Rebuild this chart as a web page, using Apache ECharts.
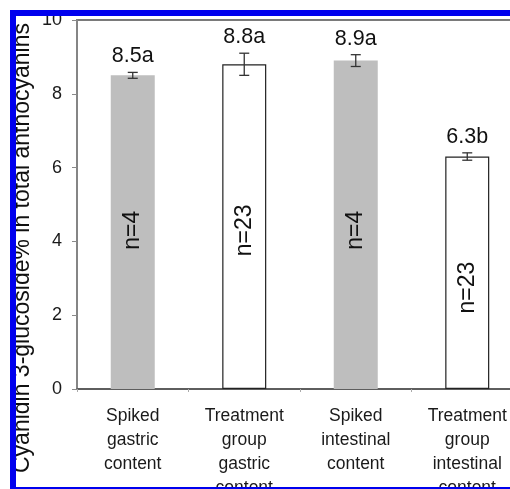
<!DOCTYPE html>
<html>
<head>
<meta charset="utf-8">
<script src="https://cdn.jsdelivr.net/npm/echarts@6/dist/echarts.min.js"></script>
<style>
  html, body { margin: 0; padding: 0; background: #fff; }
  #chart { width: 510px; height: 489px; }
</style>
</head>
<body>
<div id="chart"></div>
<script>
// Cyanidin 3-glucoside share of total anthocyanins, per sample group
const categories = [
  'Spiked\ngastric\ncontent',
  'Treatment\ngroup\ngastric\ncontent',
  'Spiked\nintestinal\ncontent',
  'Treatment\ngroup\nintestinal\ncontent'
];
const values = [8.5, 8.8, 8.9, 6.3];
const errors = [0.08, 0.30, 0.16, 0.10];
const groupLetters = ['a', 'a', 'a', 'b'];
const sampleSizes = [4, 23, 4, 23];
const spiked = [true, false, true, false];
const yTicks = [0, 2, 4, 6, 8, 10];
// where each rotated "n=" note sits inside its bar (axis units)
const nNoteAt = [4.3, 4.3, 4.3, 2.75];

const FONT = 'Liberation Sans, Arial, sans-serif';
const chart = echarts.init(document.getElementById('chart'));

chart.setOption({
  backgroundColor: '#ffffff',
  animation: false,
  grid: {
    left: 77, top: 20, width: 446, height: 369,
    outerBoundsMode: 'none', containLabel: false,
    show: true, borderColor: '#7a7a7a', borderWidth: 2, backgroundColor: 'transparent'
  },
  xAxis: {
    type: 'category',
    data: categories,
    axisLine: { lineStyle: { color: '#555', width: 1.5 } },
    axisTick: { show: true, length: 3, lineStyle: { color: '#aaa' } },
    axisLabel: {
      interval: 0, margin: 15, color: '#1a1a1a',
      fontFamily: FONT, fontSize: 17.5, lineHeight: 24, align: 'center',
      hideOverlap: false
    }
  },
  yAxis: {
    type: 'value',
    min: yTicks[0], max: yTicks[yTicks.length - 1], interval: 2,
    axisLine: { show: true, lineStyle: { color: '#8a8a8a', width: 1.5 } },
    axisTick: { show: true, inside: false, length: 5, lineStyle: { color: '#8a8a8a' } },
    axisLabel: { margin: 15, color: '#1a1a1a', fontFamily: FONT, fontSize: 18 },
    splitLine: { show: false }
  },
  series: [
    {
      type: 'bar',
      barWidth: 44,
      data: values.map((v, i) => ({
        value: v,
        itemStyle: spiked[i]
          ? { color: '#bebebe', borderWidth: 0 }
          : { color: '#ffffff', borderColor: '#222', borderWidth: 1.2 }
      })),
      z: 2
    },
    {
      // error whiskers, significance letters and rotated sample-size notes
      type: 'custom',
      z: 5,
      data: values.map((v, i) => [i, v, errors[i]]),
      renderItem: function (params, api) {
        const i = params.dataIndex;
        const v = api.value(1), e = api.value(2);
        const top = api.coord([i, v + e]);
        const bot = api.coord([i, v - e]);
        const note = api.coord([i, nNoteAt[i]]);
        const w = 5;
        const stroke = { stroke: '#333', lineWidth: 1.3 };
        return {
          type: 'group',
          children: [
            { type: 'line', shape: { x1: top[0], y1: top[1], x2: bot[0], y2: bot[1] }, style: stroke },
            { type: 'line', shape: { x1: top[0] - w, y1: top[1], x2: top[0] + w, y2: top[1] }, style: stroke },
            { type: 'line', shape: { x1: bot[0] - w, y1: bot[1], x2: bot[0] + w, y2: bot[1] }, style: stroke },
            {
              type: 'text', x: top[0], y: top[1] - 16,
              style: {
                text: values[i].toFixed(1) + groupLetters[i],
                fill: '#111', font: '21.5px ' + FONT,
                textAlign: 'center', textVerticalAlign: 'middle'
              }
            },
            {
              type: 'text', x: note[0], y: note[1], rotation: Math.PI / 2,
              style: {
                text: 'n=' + sampleSizes[i],
                fill: '#111', font: '23px ' + FONT,
                textAlign: 'center', textVerticalAlign: 'middle'
              }
            }
          ]
        };
      }
    }
  ],
  graphic: [
    {
      type: 'text', x: 23, y: 248, rotation: Math.PI / 2, z: 10,
      style: {
        text: 'Cyanidin 3-glucoside% in total anthocyanins',
        fill: '#111', font: '23px ' + FONT,
        textAlign: 'center', textVerticalAlign: 'middle'
      }
    },
    // blue frame around the figure panel
    { type: 'rect', z: 100, shape: { x: 10, y: 10, width: 500, height: 6 }, style: { fill: '#0000ee' } },
    { type: 'rect', z: 100, shape: { x: 10, y: 10, width: 6, height: 479 }, style: { fill: '#0000ee' } },
    { type: 'rect', z: 100, shape: { x: 10, y: 487, width: 500, height: 2 }, style: { fill: '#0000ee' } },
    { type: 'rect', z: 99, shape: { x: 0, y: 489, width: 510, height: 10 }, style: { fill: '#ffffff' } }
  ]
});
</script>
</body>
</html>
